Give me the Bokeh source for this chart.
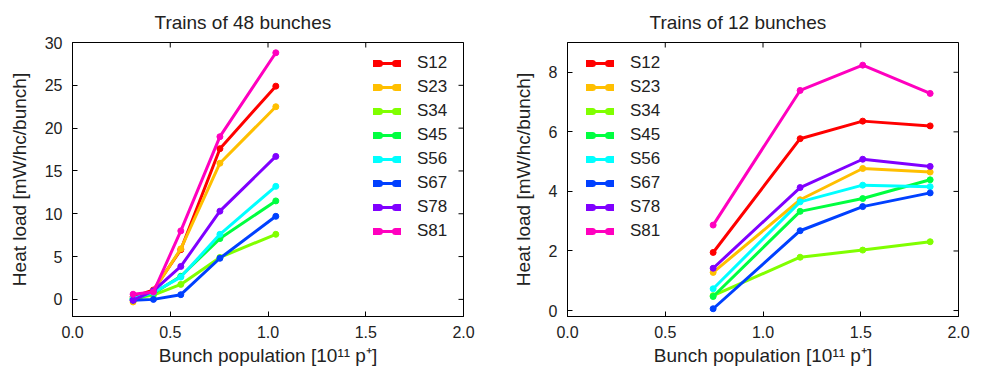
import math
from bokeh.plotting import figure
from bokeh.models import Range1d, FixedTicker, NumeralTickFormatter, Legend, LegendItem
from bokeh.layouts import row
from bokeh.embed import file_html
from bokeh.resources import INLINE

FONT = "Liberation Sans"

names = ["S12", "S23", "S34", "S45", "S56", "S67", "S78", "S81"]
colors = ["#ff0000", "#ffbf00", "#80ff00", "#00ff40", "#00ffff", "#0040ff", "#8000ff", "#ff00bf"]

# Trains of 48 bunches
x48 = [0.31, 0.414, 0.554, 0.754, 1.04]
S12_48 = [0.3, 1.1, 5.8, 17.6, 24.9]
S23_48 = [-0.3, 1.0, 5.9, 15.9, 22.5]
S34_48 = [0.1, 0.5, 1.75, 4.9, 7.6]
S45_48 = [0.0, 0.7, 2.7, 7.1, 11.5]
S56_48 = [0.1, 0.8, 2.6, 7.6, 13.2]
S67_48 = [-0.1, 0.0, 0.55, 4.8, 9.7]
S78_48 = [-0.1, 1.0, 3.85, 10.3, 16.7]
S81_48 = [0.6, 0.85, 8.0, 19.0, 28.8]

# Trains of 12 bunches
x12 = [0.745, 1.19, 1.51, 1.855]
S12_12 = [1.95, 5.77, 6.36, 6.2]
S23_12 = [1.28, 3.72, 4.77, 4.65]
S34_12 = [0.5, 1.79, 2.03, 2.31]
S45_12 = [0.47, 3.33, 3.76, 4.39]
S56_12 = [0.73, 3.65, 4.21, 4.16]
S67_12 = [0.06, 2.68, 3.49, 3.95]
S78_12 = [1.42, 4.13, 5.08, 4.84]
S81_12 = [2.87, 7.39, 8.24, 7.29]

x_ticks = [0.0, 0.5, 1.0, 1.5, 2.0]
y_ticks_48 = [0, 5, 10, 15, 20, 25, 30]
y_ticks_12 = [0, 2, 4, 6, 8]

xlabel = "Bunch population [10\u00b9\u00b9 p\u207a]"
ylabel = "Heat load [mW/hc/bunch]"


def style_axis(ax):
    ax.major_tick_in = 5
    ax.major_tick_out = 0
    ax.minor_tick_line_color = None
    ax.axis_line_color = "black"
    ax.major_tick_line_color = "black"
    ax.major_label_text_font = FONT
    ax.major_label_text_color = "#222222"
    ax.major_label_text_font_size = "16px"
    ax.axis_label_text_font = FONT
    ax.axis_label_text_font_style = "normal"
    ax.axis_label_text_font_size = "19px"
    ax.axis_label_text_color = "#222222"


def make(title, xs, series, yr, yticks, legend_loc, width, ml, mr):
    xr = (0, 2)
    p = figure(width=width, height=373, x_range=Range1d(*xr), y_range=Range1d(*yr),
               output_backend="svg", toolbar_location=None,
               min_border_left=ml, min_border_right=mr, min_border_top=42, min_border_bottom=57)
    p.title.text = title
    p.title.align = "left"
    p.title.offset = 82
    p.title.standoff = 19
    p.title.text_font = FONT
    p.title.text_font_size = "19px"
    p.title.text_font_style = "normal"
    p.title.text_color = "#222222"
    p.xgrid.visible = False
    p.ygrid.visible = False
    p.outline_line_color = "black"
    p.outline_line_alpha = 1

    p.xaxis.ticker = FixedTicker(ticks=x_ticks)
    p.xaxis.formatter = NumeralTickFormatter(format="0.0")
    p.yaxis.ticker = FixedTicker(ticks=yticks)
    p.xaxis.axis_label = xlabel
    p.yaxis.axis_label = ylabel
    for ax in p.xaxis + p.yaxis:
        style_axis(ax)
    p.xaxis.major_label_standoff = 9
    p.xaxis.axis_label_standoff = 4
    p.yaxis.major_label_standoff = 10
    p.yaxis.axis_label_standoff = 12

    # mirrored inward ticks on the top and right edges (clipped to the frame)
    p.scatter(x_ticks, [yr[1]] * len(x_ticks), marker="dash", angle=math.pi / 2,
              size=10, line_color="black", line_width=1)
    p.scatter([xr[1]] * len(yticks), yticks, marker="dash", angle=0,
              size=10, line_color="black", line_width=1)

    items = []
    for name, ys, color in zip(names, series, colors):
        l = p.line(xs, ys, line_color=color, line_width=3, line_join="round")
        p.scatter(xs, ys, size=6, color=color)
        # legend-only renderer: short dashes give a point marker at each end of the sample
        d = p.line(xs, ys, line_color=color, line_width=7, line_dash="6 16",
                   line_cap="round", visible=False)
        items.append(LegendItem(label=name, renderers=[l, d]))

    legend = Legend(items=items, location=legend_loc, glyph_width=28, glyph_height=20,
                    label_height=20, spacing=4, padding=0, margin=0,
                    border_line_color=None, background_fill_alpha=0, label_standoff=16,
                    label_text_font=FONT, label_text_font_size="17px", label_text_color="#222222")
    p.add_layout(legend)
    return p


left = make("Trains of 48 bunches", x48,
            [S12_48, S23_48, S34_48, S45_48, S56_48, S67_48, S78_48, S81_48],
            (-2, 30), y_ticks_48, (301, 75), 490, 72, 27)
right = make("Trains of 12 bunches", x12,
             [S12_12, S23_12, S34_12, S45_12, S56_12, S67_12, S78_12, S81_12],
             (-0.2, 9), y_ticks_12, (19, 75), 491, 77, 23)

layout = row(left, right)
open("out.html", "w").write(file_html(layout, INLINE))
